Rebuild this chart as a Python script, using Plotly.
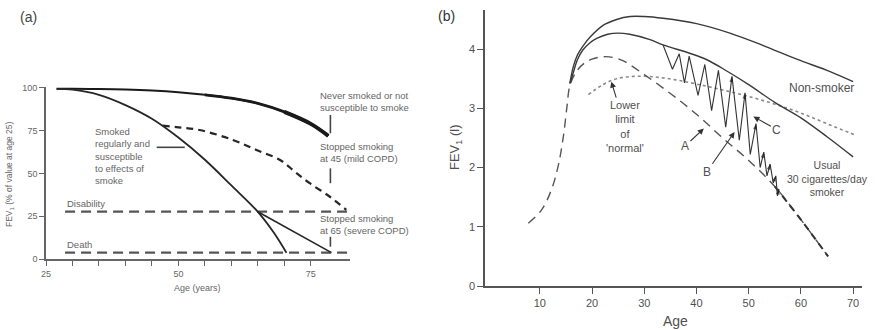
import plotly.graph_objects as go

# ---------------- Panel (a) data ----------------
a_never_age = [27, 30, 35, 40, 45, 50, 55, 60, 65, 70, 75, 78.3]
a_never_val = [99.5, 99.5, 99.4, 99.1, 98.5, 97.5, 96, 94, 91, 86, 79, 72]
a_smoker_age = [27, 30, 35, 40, 45, 50, 55, 60, 65, 68, 70.4]
a_smoker_val = [99.5, 99, 96, 90, 82, 71, 58, 43, 27.6, 15.5, 3.7]
a_stop45_age = [47, 50, 54, 60.3, 65, 69.2, 72, 74.8, 78.6, 81.7]
a_stop45_val = [78, 77, 75.4, 69.6, 63.4, 57.9, 51, 44.3, 36.4, 28.7]
a_stop65_age = [65, 78.9]
a_stop65_val = [27.6, 3.7]
a_disability_age = [28.6, 82.2]
a_disability_val = [27.7, 27.7]
a_death_age = [28.6, 82.2]
a_death_val = [3.7, 3.7]
a_xticks = [25, 50, 75]
a_xminor = [30, 35, 40, 45, 55, 60, 65, 70]
a_yticks = [0, 25, 50, 75, 100]
# label connector segments (age pairs, value pairs)
a_connectors = [
    ([45.9, 51.2], [65.3, 65.3]),
    ([78.7, 78.7], [84.2, 73.5]),
    ([78.7, 78.7], [53.0, 44.3]),
    ([78.7, 78.7], [13.0, 7.2]),
]

# ---------------- Panel (b) data ----------------
b_non_age = [15.75, 16.4, 17.2, 18.5, 19.6, 22.1, 24.7, 27.3, 30, 33.6, 40, 46.4, 52.8, 59.2, 65.6, 70]
b_non_val = [3.42, 3.7, 3.9, 4.08, 4.2, 4.4, 4.5, 4.55, 4.55, 4.52, 4.43, 4.27, 4.06, 3.83, 3.62, 3.45]
b_smk_age = [15.75, 16.4, 17.2, 18.2, 19.5, 20.9, 23, 25, 27.2, 31.1, 33.6, 38.7, 42, 45.8, 50, 55, 60, 65, 70]
b_smk_val = [3.42, 3.6, 3.82, 3.98, 4.1, 4.18, 4.25, 4.27, 4.25, 4.16, 4.07, 3.93, 3.82, 3.63, 3.4, 3.1, 2.84, 2.52, 2.18]
b_dash_age = [7.8, 10.3, 12.2, 13.5, 14.5, 15.2, 15.75, 17, 18.5, 20, 22, 24, 26, 30, 35, 40, 45, 50, 55, 60, 65.2]
b_dash_val = [1.06, 1.28, 1.62, 2.02, 2.52, 3.03, 3.38, 3.62, 3.76, 3.83, 3.87, 3.86, 3.8, 3.57, 3.25, 2.9, 2.5, 2.12, 1.68, 1.12, 0.5]
b_dot_age = [19.3, 22.1, 24.7, 28, 32, 36, 40, 45, 50, 55, 60, 65, 70.4]
b_dot_val = [3.23, 3.4, 3.5, 3.54, 3.53, 3.48, 3.41, 3.31, 3.2, 3.07, 2.92, 2.74, 2.55]
b_zz_age = [33.6, 35.4, 36.7, 37.7, 38.6, 40.3, 41.6, 42.9, 44.2, 45.6, 46.8, 48.2, 49.3,
            50.3, 51.4, 52.2, 52.9, 53.5, 54.1, 54.7, 55.2, 55.5, 55.8]
b_zz_val = [4.07, 3.66, 3.92, 3.43, 3.88, 3.22, 3.74, 2.96, 3.64, 2.68, 3.54, 2.46, 3.26,
            2.22, 2.74, 2.0, 2.26, 1.86, 2.06, 1.74, 1.86, 1.52, 1.64]
b_zz_arrow_idx = [10, 12, 14, 16, 18, 20, 22]   # peaks carrying arrowheads
b_xticks = [10, 20, 30, 40, 50, 60, 70]
b_yticks = [0, 1, 2, 3, 4]

FONT = "Liberation Sans"
GA = "#666666"
GB = "#505050"

fig = go.Figure()

def line(x, y, ax, color, width, dash=None, shape="spline"):
    fig.add_trace(go.Scatter(
        x=x, y=y, mode="lines", xaxis=ax[0], yaxis=ax[1], showlegend=False,
        hoverinfo="skip",
        line=dict(color=color, width=width, dash=dash, shape=shape, smoothing=1.0)))

A = ("x", "y")
B = ("x2", "y2")

# panel (a)
line(a_disability_age, a_disability_val, A, "#555555", 2.2, "10px,6px", "linear")
line(a_death_age, a_death_val, A, "#555555", 2.2, "10px,6px", "linear")
line(a_never_age, a_never_val, A, "#1a1a1a", 2.0)
line(a_never_age[6:], a_never_val[6:], A, "#1a1a1a", 2.8)
line(a_never_age[9:], a_never_val[9:], A, "#1a1a1a", 4.0)
line(a_smoker_age, a_smoker_val, A, "#262626", 1.8)
line(a_stop45_age, a_stop45_val, A, "#262626", 2.2, "7px,5px")
line(a_stop65_age, a_stop65_val, A, "#262626", 1.6, None, "linear")
for cx, cy in a_connectors:
    line(cx, cy, A, "#444444", 1.6, None, "linear")

# panel (b)
line(b_dot_age, b_dot_val, B, "#8a8a8a", 1.6, "dot")
line(b_dash_age, b_dash_val, B, "#555555", 1.4, "9px,6px")
line(b_dash_age[18:], b_dash_val[18:], B, "#333333", 2.0, "7px,5px")
line(b_non_age, b_non_val, B, "#3a3a3a", 1.4)
line(b_smk_age, b_smk_val, B, "#3a3a3a", 1.4)
line(b_zz_age, b_zz_val, B, "#333333", 1.1, None, "linear")
fig.add_trace(go.Scatter(
    x=b_zz_age, y=b_zz_val, mode="markers", xaxis="x2", yaxis="y2", showlegend=False,
    hoverinfo="skip",
    marker=dict(symbol="arrow", angleref="previous", color="#222222",
                size=[6 if i in b_zz_arrow_idx else 0 for i in range(len(b_zz_age))],
                line=dict(width=0))))

ann = []
def txt(x, y, s, ref, size, color, xanchor="left", align="left"):
    ann.append(dict(x=x, y=y, xref=ref[0], yref=ref[1], text=s, showarrow=False,
                    xanchor=xanchor, yanchor="middle", align=align,
                    font=dict(family=FONT, size=size, color=color)))

def arrow(x, y, axv, ayv, s, size, color):
    ann.append(dict(x=x, y=y, ax=axv, ay=ayv, xref="x2", yref="y2", axref="x2", ayref="y2",
                    text=s, showarrow=True, arrowhead=2, arrowsize=1.1, arrowwidth=1.1,
                    arrowcolor="#333333", align="center",
                    font=dict(family=FONT, size=size, color=color)))

# panel (a) labels
txt(33.9, 60.0, "Smoked<br>regularly and<br>susceptible<br>to effects of<br>smoke", A, 9.5, GA)
txt(28.6, 32.3, "Disability", A, 9.5, GA)
txt(28.6, 8.3, "Death", A, 9.5, GA)
txt(76.4, 92.3, "Never smoked or not<br>susceptible to smoke", A, 9.5, GA)
txt(76.4, 62.1, "Stopped smoking<br>at 45 (mild COPD)", A, 9.5, GA)
txt(76.4, 19.9, "Stopped smoking<br>at 65 (severe COPD)", A, 9.5, GA)

# panel (b) labels
txt(63.9, 3.34, "Non-smoker", B, 12, GB, "center", "center")
txt(65.1, 1.82, "Usual<br>30 cigarettes/day<br>smoker", B, 10.5, GB, "center", "center")
arrow(23.7, 3.45, 26.3, 2.69, "Lower<br>limit<br>of<br>'normal'", 11, GB)
arrow(41.4, 2.66, 37.8, 2.36, "A", 12, GB)
arrow(47.3, 2.6, 42.0, 1.93, "B", 12, GB)
arrow(50.9, 2.86, 55.4, 2.64, "C", 12, GB)

W, H = 877, 330
def paper(px, py, s, size, color, angle=0):
    ann.append(dict(x=px / W, y=1 - py / H, xref="paper", yref="paper", text=s,
                    showarrow=False, xanchor="center", yanchor="middle", textangle=angle,
                    font=dict(family=FONT, size=size, color=color)))

paper(28, 17, "(a)", 14, "#444444")
paper(446, 16, "(b)", 14, "#333333")
paper(197, 288, "Age (years)", 9, GA)
paper(10, 174, "FEV<sub>1</sub> (% of value at age 25)", 8.5, GA, -90)
paper(675, 321, "Age", 14, GB)
paper(455, 147, "FEV<sub>1</sub> (l)", 13, GB, -90)

axis_common = dict(showgrid=False, zeroline=False, showline=True, ticks="outside",
                   fixedrange=True, automargin=False)

fig.update_layout(
    template="none",
    width=W, height=H, margin=dict(l=0, r=0, t=0, b=0, autoexpand=False),
    paper_bgcolor="white", plot_bgcolor="white",
    font=dict(family=FONT, color=GB),
    annotations=ann,
    xaxis=dict(**axis_common, domain=[46 / W, 350 / W], range=[25, 82.4], anchor="y",
               tickvals=a_xticks, linecolor="#666666", linewidth=1.6, ticklen=5,
               tickcolor="#666666", tickwidth=1.3,
               minor=dict(tickvals=a_xminor, ticks="outside", ticklen=5,
                          tickcolor="#666666", tickwidth=1.3),
               tickfont=dict(family=FONT, size=9, color=GA)),
    yaxis=dict(**axis_common, domain=[71 / H, (H - 87.1) / H], range=[0, 100.5], anchor="x",
               tickvals=a_yticks, linecolor="#666666", linewidth=1.6, ticklen=5,
               tickcolor="#666666", tickwidth=1.3,
               tickfont=dict(family=FONT, size=9, color=GA)),
    xaxis2=dict(**axis_common, domain=[485 / W, 862 / W], range=[-0.5, 71.7], anchor="y2",
                tickvals=b_xticks, linecolor="#555555", linewidth=1.6, ticklen=6,
                tickcolor="#555555", tickwidth=1.3,
                tickfont=dict(family=FONT, size=11, color=GB)),
    yaxis2=dict(**axis_common, domain=[44 / H, 320 / H], range=[0, 4.66], anchor="x2",
                tickvals=b_yticks, linecolor="#555555", linewidth=1.6, ticklen=6,
                tickcolor="#555555", tickwidth=1.3,
                tickfont=dict(family=FONT, size=11, color=GB)),
)

fig.write_html("out.html", config={"displayModeBar": False},
               post_script="document.body.style.margin='0';document.body.style.overflow='hidden';")
